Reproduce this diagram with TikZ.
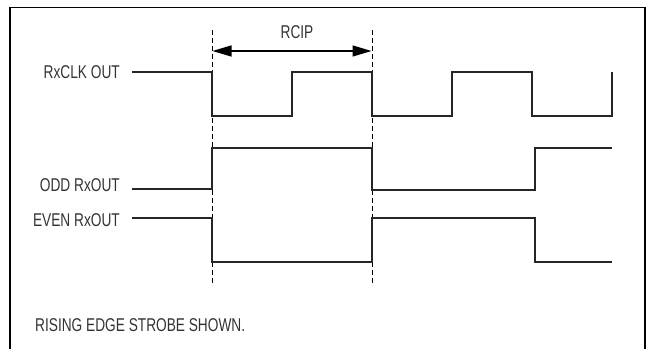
\documentclass[tikz,border=0pt]{standalone}
\usepackage{fontspec}
\setmainfont{Liberation Sans}[FakeStretch=0.74]
\usepackage{tikz}
\usetikzlibrary{arrows.meta,positioning,calc}

\tikzset{
  wave/.style={line width=1.4pt, black!85},
  strobe/.style={line width=0.9pt, dash pattern=on 5pt off 3pt},
  lbl/.style={anchor=east, inner sep=0pt, text=black!80, font=\fontsize{18.5}{20}\selectfont},
  frame/.style={line width=1.8pt}
}

\begin{document}
\begin{tikzpicture}[x=1pt, y=-1pt]
  \useasboundingbox (0,0) rectangle (647,348);
  \clip (0,0) rectangle (647,348);

  % Frame
  \draw[frame] (10,360) -- (10,7.5) -- (645,7.5) -- (645,360);

  % Strobe edges
  \coordinate (e1top) at (212,30);
  \coordinate (e1bot) at (212,285);
  \coordinate (e2top) at (372,30);
  \coordinate (e2bot) at (372,285);
  \draw[strobe] (e1top) -- (e1bot);
  \draw[strobe] (e2top) -- (e2bot);

  % Period arrow
  \coordinate (pl) at (212.5,51);
  \coordinate (pr) at (371.5,51);
  \draw[line width=1.3pt, {Triangle[length=19pt,width=11pt]}-{Triangle[length=19pt,width=11pt]}] (pl) -- (pr);
  \node[lbl, anchor=center] (rcip) at (297,32) {RCIP};

  % Clock
  \node[lbl] (clk) at (120,72.5) {RxCLK OUT};
  \draw[wave] (132,72) -- (212,72) -- (212,116) -- (292,116) -- (292,72) -- (372,72)
    -- (372,116) -- (452,116) -- (452,72) -- (532,72) -- (532,116) -- (612,116) -- (612,72);

  % Odd output
  \node[lbl] (odd) at (120,185.5) {ODD RxOUT};
  \draw[wave] (132,189) -- (212,189) -- (212,148) -- (372,148) -- (372,190)
    -- (535,190) -- (535,148) -- (612,148);

  % Even output
  \node[lbl] (even) at (120,220.5) {EVEN RxOUT};
  \draw[wave] (132,218) -- (212,218) -- (212,262) -- (372,262) -- (372,218)
    -- (535,218) -- (535,262) -- (612,262);

  % Note
  \node[lbl, anchor=west] (note) at (35,325.5) {RISING EDGE STROBE SHOWN.};
\end{tikzpicture}
\end{document}
